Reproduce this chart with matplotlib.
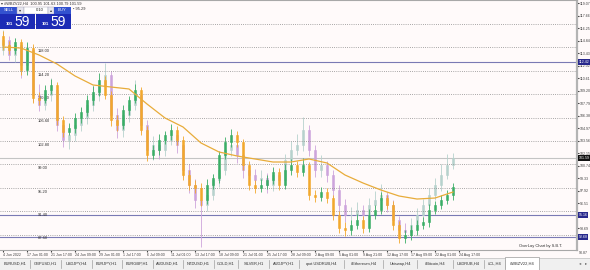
import matplotlib
matplotlib.use("Agg")
import matplotlib.pyplot as plt
import numpy as np
from matplotlib.patches import Rectangle

# main symbol (#WBZV22, H4) - lavender candles, right price scale
main_open = [113.8, 114.9, 113.2, 114.3, 112.1, 113.8, 108.7, 107.6, 108.7, 109.3,
             105.3, 103.6, 104.2, 105.3, 106.1, 107.6, 108.7, 109.8, 111.0, 106.4,
             104.7, 106.4, 107.6, 108.7, 105.3, 102.5, 103.0, 102.5, 103.6, 104.2,
             103.0, 100.2, 98.5, 96.8, 96.3, 97.4, 99.1, 100.2, 102.5, 103.0,
             101.9, 100.2, 99.7, 99.1, 99.3, 98.5, 99.7, 99.1, 101.4, 102.5,
             103.0, 104.7, 102.5, 100.2, 100.8, 99.7, 98.0, 96.3, 95.2, 95.2,
             95.7, 95.2, 96.3, 96.8, 97.4, 96.3, 94.6, 93.5, 93.2, 94.0,
             95.2, 96.3, 97.4, 98.5, 99.7, 100.8]
main_close = [114.9, 113.2, 114.3, 112.1, 113.8, 108.7, 107.6, 108.7, 109.3, 105.3,
              103.6, 104.2, 105.3, 106.1, 107.6, 108.7, 109.8, 111.0, 106.4, 104.7,
              106.4, 107.6, 108.7, 105.3, 102.5, 103.0, 102.5, 103.6, 104.2, 103.0,
              100.2, 98.5, 96.8, 96.3, 97.4, 99.1, 100.2, 102.5, 103.0, 101.9,
              100.2, 99.7, 99.1, 99.3, 98.5, 99.7, 99.1, 101.4, 102.5, 103.0,
              104.7, 102.5, 100.2, 100.8, 99.7, 98.0, 96.3, 95.2, 95.2, 95.7,
              95.2, 96.3, 96.8, 97.4, 96.3, 94.6, 93.5, 93.2, 94.0, 95.2,
              96.3, 97.4, 98.5, 99.7, 100.8, 101.59]
main_high = [116.0, 115.3, 115.1, 114.8, 114.6, 114.2, 109.9, 109.6, 110.6, 109.8,
             106.0, 105.3, 106.2, 107.2, 108.3, 109.8, 110.6, 112.3, 111.4, 107.2,
             107.0, 108.4, 110.4, 109.4, 105.9, 104.1, 103.8, 104.5, 105.1, 104.8,
             103.4, 100.9, 99.2, 97.6, 98.4, 99.8, 101.2, 103.1, 104.0, 103.5,
             102.3, 100.9, 100.4, 100.2, 99.9, 100.5, 100.3, 102.0, 103.5, 104.3,
             106.2, 105.3, 103.0, 101.9, 101.3, 100.2, 98.5, 97.0, 96.1, 96.6,
             96.3, 97.1, 97.9, 98.6, 97.8, 96.8, 95.1, 94.2, 94.8, 96.0,
             97.0, 98.2, 99.3, 100.9, 102.0, 102.1]
main_low = [113.2, 112.6, 112.4, 110.6, 111.5, 107.9, 106.9, 107.0, 108.0, 104.6,
            102.8, 102.6, 103.5, 104.6, 105.4, 106.9, 108.0, 109.1, 105.8, 103.9,
            104.0, 105.7, 107.0, 104.5, 101.6, 101.4, 101.5, 101.8, 103.0, 102.2,
            99.4, 97.6, 95.9, 91.6, 95.6, 96.9, 98.3, 99.7, 101.8, 101.0,
            99.3, 98.8, 98.2, 98.4, 97.6, 97.9, 98.3, 98.7, 100.8, 101.9,
            102.4, 101.8, 99.5, 99.4, 98.9, 97.1, 95.5, 94.4, 94.3, 94.6,
            94.2, 94.8, 95.9, 96.2, 95.5, 93.9, 92.7, 92.5, 92.6, 93.6,
            94.8, 95.8, 96.9, 97.9, 99.2, 100.3]

# overlay symbol - green / orange candles, left labelled levels
ovl_open = [119.8, 118.4, 117.6, 118.9, 114.3, 117.9, 109.8, 109.5, 111.1, 111.9,
            106.2, 104.3, 104.9, 106.5, 107.5, 109.5, 110.8, 112.7, 110.3, 106.2,
            105.4, 107.8, 109.5, 111.1, 104.6, 100.5, 101.3, 103.0, 103.8, 104.6,
            103.0, 97.3, 95.7, 95.2, 93.2, 95.7, 96.8, 100.5, 102.6, 103.8,
            102.6, 98.9, 95.7, 95.2, 95.7, 96.5, 97.8, 95.7, 98.1, 98.9,
            97.8, 98.9, 94.0, 93.7, 94.5, 93.5, 90.8, 88.7, 88.3, 89.2,
            90.0, 88.7, 90.8, 91.6, 93.5, 92.4, 89.2, 87.0, 87.5, 88.3,
            89.2, 89.6, 91.6, 92.4, 93.2, 94.0]
ovl_close = [118.4, 117.6, 118.9, 114.3, 117.9, 109.8, 109.5, 111.1, 111.9, 106.2,
             104.3, 104.9, 106.5, 107.5, 109.5, 110.8, 112.7, 110.3, 106.2, 105.4,
             107.8, 109.5, 111.1, 104.6, 100.5, 101.3, 103.0, 103.8, 104.6, 103.0,
             97.3, 95.7, 95.2, 93.2, 95.7, 96.8, 100.5, 102.6, 103.8, 102.6,
             98.9, 95.7, 95.2, 95.7, 96.5, 97.8, 95.7, 98.1, 98.9, 97.8,
             98.9, 94.0, 93.7, 94.5, 93.5, 90.8, 88.7, 88.3, 89.2, 90.0,
             88.7, 90.8, 91.6, 93.5, 92.4, 89.2, 87.0, 87.5, 88.3, 89.2,
             89.6, 91.6, 92.4, 93.2, 94.0, 95.29]
ovl_high = [120.6, 119.1, 119.6, 119.4, 118.8, 118.5, 110.7, 111.9, 112.8, 112.4,
            106.9, 105.8, 107.3, 108.4, 110.2, 111.7, 113.9, 113.3, 110.9, 107.0,
            108.6, 110.1, 112.0, 111.6, 105.3, 102.2, 103.9, 104.5, 105.6, 105.2,
            103.6, 98.1, 96.5, 95.9, 96.6, 97.5, 101.2, 103.4, 104.7, 104.4,
            103.1, 99.6, 96.5, 96.6, 97.3, 98.6, 98.4, 99.0, 99.8, 99.5,
            100.0, 99.4, 94.8, 95.3, 95.1, 94.1, 91.5, 89.6, 90.0, 90.9,
            90.6, 91.7, 92.4, 94.6, 94.1, 93.0, 89.8, 88.3, 89.1, 90.0,
            90.4, 92.5, 93.1, 94.0, 94.9, 95.9]
ovl_low = [117.6, 116.9, 117.0, 113.6, 113.5, 109.0, 108.6, 108.9, 110.4, 105.4,
           103.4, 103.7, 104.1, 105.8, 106.9, 108.7, 110.1, 109.6, 105.3, 104.5,
           104.8, 107.0, 108.9, 103.8, 99.6, 99.8, 100.6, 102.3, 103.0, 102.2,
           96.5, 94.9, 94.3, 92.2, 92.6, 95.0, 96.0, 99.8, 101.9, 101.8,
           98.1, 94.9, 94.3, 94.5, 95.0, 95.8, 94.9, 95.0, 97.3, 97.0,
           97.1, 93.2, 92.9, 93.0, 92.7, 90.0, 87.9, 87.4, 87.6, 88.5,
           87.9, 88.0, 90.1, 90.9, 91.7, 88.4, 86.2, 86.3, 86.8, 87.6,
           88.5, 88.9, 90.9, 91.7, 92.5, 93.3]

# moving average of the overlay, sampled every 3rd bar
ma_bar = [0, 3, 6, 9, 12, 15, 18, 21, 24, 27, 30, 33, 36, 39, 42, 45, 48, 51,
          54, 57, 60, 63, 66, 69, 72, 75]
ma_val = [118.07, 117.90, 116.77, 115.31, 113.36, 111.90, 111.57, 111.25, 108.81,
          106.54, 105.08, 102.48, 101.02, 100.37, 99.88, 99.39, 99.39, 99.88,
          99.23, 97.28, 95.98, 94.84, 93.87, 93.38, 93.54, 94.52]

ovl_levels = [121.80, 118.00, 114.20, 110.40, 106.60, 102.80, 99.00, 95.20, 91.40, 87.60]
price_ticks = [119.07, 117.66, 116.25, 114.84, 113.43, 112.02, 110.61, 109.20, 107.79,
               106.38, 104.97, 103.56, 102.15, 100.74, 99.33, 97.92, 96.51, 93.69]
blue_lines = [112.42, 95.16, 92.68]
last_price = 101.59
ovl_last = "95.29"

time_labels = ["4 Jun 2022", "17 Jun 01:00", "21 Jun 17:00", "24 Jun 09:00", "29 Jun 01:00",
               "1 Jul 17:00", "6 Jul 09:00", "11 Jul 01:00", "13 Jul 17:00", "18 Jul 09:00",
               "21 Jul 01:00", "25 Jul 17:00", "28 Jul 09:00", "2 Aug 09:00", "5 Aug 01:00",
               "9 Aug 21:00", "12 Aug 17:00", "17 Aug 09:00", "22 Aug 01:00", "24 Aug 17:00"]
tabs = ["EURUSD,H1", "GBPUSD,H1", "USDJPY,H4", "EURJPY,H1", "EURGBP,H1", "AUDUSD,H1",
        "NZDUSD,H1", "GOLD,H1", "SILVER,H1", "AUDJPY,H1", "cpot.USDRUB,H4", "#Ethereum,H4",
        "Uniswap,H4", "#Bitcoin,H4", "USDRUB,H4", "#CL,H4", "#WBZV22,H4"]

plt.rcParams["font.family"] = ["Liberation Sans", "DejaVu Sans"]

W, H = 590, 270
BG = "#fffafa"
FS = 2.9
FS_R = 2.6   # right price scale is squeezed against the edge


def fx(x):
    return x / W


def fy(y):
    return 1 - y / H


def draw_candles(axis, o, h, l, c, up_col, dn_col, z):
    o, h, l, c = (np.asarray(v, dtype=float) for v in (o, h, l, c))
    idx = np.arange(len(c))
    cols = np.where(c >= o, up_col, dn_col)
    axis.vlines(idx, l, h, colors=cols, lw=0.6, zorder=z)
    axis.bar(idx, np.abs(c - o), width=0.45, bottom=np.minimum(o, c), color=cols,
             edgecolor=cols, linewidth=0.4, zorder=z + 0.1)


def box(x0, y0, x1, y1, fc, ec="none", lw=0.5, z=10):
    fig.add_artist(Rectangle((fx(x0), fy(y1)), (x1 - x0) / W, (y1 - y0) / H,
                             transform=fig.transFigure, fc=fc, ec=ec, lw=lw, zorder=z))


fig = plt.figure(figsize=(W / 100, H / 100), dpi=100)
fig.patch.set_facecolor(BG)

ax = fig.add_axes([0, fy(250), fx(577), 250 / H])
ax.set_facecolor(BG)
ax.set_xlim(-0.5, 577 / 6 - 0.5)
ax.set_ylim(91.21, 119.41)

ax2 = ax.twinx()
ax2.set_ylim(85.10, 125.70)
ax2.set_yticks([])
for s in ax2.spines.values():
    s.set_visible(False)

# dotted levels of the overlay with their labels
for lv in ovl_levels:
    ax2.axhline(lv, color="#8c8c8c", lw=0.6, ls=(0, (1, 1.6)), zorder=1)
    ax2.text(38 / 577, lv - 0.3, f"{lv:.2f}", transform=ax2.get_yaxis_transform(),
             fontsize=FS, color="#303030", va="top", ha="left", zorder=2)

# horizontal lines on the main scale
for v in blue_lines:
    ax.axhline(v, color="#7a7ab4", lw=0.8, zorder=1)
ax.axhline(last_price, color="#c4c4c4", lw=0.8, zorder=1)

draw_candles(ax, main_open, main_high, main_low, main_close, "#b7d2cd", "#cda4dc", 2)
draw_candles(ax2, ovl_open, ovl_high, ovl_low, ovl_close, "#3aae66", "#f2a82c", 3)
ax2.plot(ma_bar, ma_val, color="#e8ac3a", lw=0.9, zorder=4)

# right price scale
ax.yaxis.tick_right()
ax.set_yticks(price_ticks)
ax.set_yticklabels([f"{v:.2f}" for v in price_ticks])
ax.tick_params(axis="y", length=1.5, pad=0.6, labelsize=FS_R, colors="#404040")
tf = ax.get_yaxis_transform()
for v in blue_lines:
    ax.text(1.003, v, f"{v:.2f}", transform=tf, fontsize=FS_R, color="white", va="center",
            ha="left", bbox=dict(boxstyle="square,pad=0.15", fc="#28288c", ec="none"),
            clip_on=False)
ax.text(1.003, last_price, f"{last_price:.2f}", transform=tf, fontsize=FS_R, color="white",
        va="center", ha="left", bbox=dict(boxstyle="square,pad=0.15", fc="#111111", ec="none"),
        clip_on=False)
ax.text(1.004, 90.87, "90.87", transform=tf, fontsize=FS_R, color="#404040", va="center",
        ha="left", clip_on=False)

# time scale
ax.set_xticks(np.arange(len(time_labels)) * 4)
ax.set_xticklabels(time_labels)
for lb in ax.get_xticklabels():
    lb.set_ha("left")
ax.tick_params(axis="x", length=1.5, pad=0.8, labelsize=2.6, colors="#404040")

for side in ("top", "bottom"):
    ax.spines[side].set_color("#a8a8a8")
    ax.spines[side].set_linewidth(0.8)
ax.spines["left"].set_visible(False)
ax.spines["right"].set_color("#b4b4b4")
ax.spines["right"].set_linewidth(1.6)

ax.text(0.975, 0.008, "OverLay Chart by S.B.T.", transform=ax.transAxes, fontsize=FS,
        color="#303030", ha="right", va="bottom")

# header line and one-click trading panel
fig.text(fx(1), fy(3.5), "▾ #WBZV22,H4  100.95 101.63 100.79 101.59", fontsize=2.8,
         color="#303030", va="center", ha="left", zorder=12)
fig.text(fx(73), fy(9), "• " + ovl_last, fontsize=FS, color="#303030", va="center",
         ha="left", zorder=12)
box(0, 7, 17, 13.5, "#3352cf")
box(17, 7, 24, 13.5, "#e6e6ee", ec="#9a9ab0", lw=0.3)
box(24, 7, 48, 13.5, "white", ec="#9a9ab0", lw=0.3)
box(48, 7, 54, 13.5, "#e6e6ee", ec="#9a9ab0", lw=0.3)
box(54, 7, 71, 13.5, "#3352cf")
box(0, 13.5, 35, 29, "#1c2bb5")
box(36, 13.5, 71, 29, "#1c2bb5")
fig.text(fx(8.5), fy(10.3), "SELL", fontsize=3.0, color="white", ha="center", va="center", zorder=12)
fig.text(fx(20.5), fy(10.3), "▾", fontsize=3.0, color="#333333", ha="center", va="center", zorder=12)
fig.text(fx(40), fy(10.3), "0.10", fontsize=3.0, color="#222222", ha="center", va="center", zorder=12)
fig.text(fx(51), fy(10.3), "▴", fontsize=3.0, color="#333333", ha="center", va="center", zorder=12)
fig.text(fx(62.5), fy(10.3), "BUY", fontsize=3.0, color="white", ha="center", va="center", zorder=12)
for x0 in (0, 36):
    fig.text(fx(x0 + 13), fy(24), "101", fontsize=3.2, color="white", ha="right",
             va="center", weight="bold", zorder=12)
    fig.text(fx(x0 + 14), fy(21.5), "59", fontsize=10, color="white", ha="left",
             va="center", zorder=12)

# symbol tabs
box(0, 258, W, H, "#f0f0f0", z=9)
fig.add_artist(plt.Line2D([0, 1], [fy(258), fy(258)], transform=fig.transFigure,
                          color="#c8c8c8", lw=0.6, zorder=9.5))
x = 0.0
for name in tabs:
    w = 4.4 + 2.9 * len(name)
    if name == tabs[-1]:
        box(x, 257, x + w, H, "white", ec="#9a9a9a", lw=0.5, z=10)
    else:
        fig.add_artist(plt.Line2D([fx(x + w), fx(x + w)], [fy(260), fy(268)],
                                  transform=fig.transFigure, color="#a0a0a0", lw=0.5, zorder=10))
    fig.text(fx(x + w / 2), fy(263.5), name, fontsize=2.9, color="#303030", ha="center",
             va="center", zorder=12)
    x += w
fig.text(fx(580), fy(263.5), "◂", fontsize=3.2, color="#606060", ha="center", va="center", zorder=12)
fig.text(fx(586), fy(263.5), "▸", fontsize=3.2, color="#606060", ha="center", va="center", zorder=12)

fig.savefig("out.png", dpi=100, facecolor=BG)
